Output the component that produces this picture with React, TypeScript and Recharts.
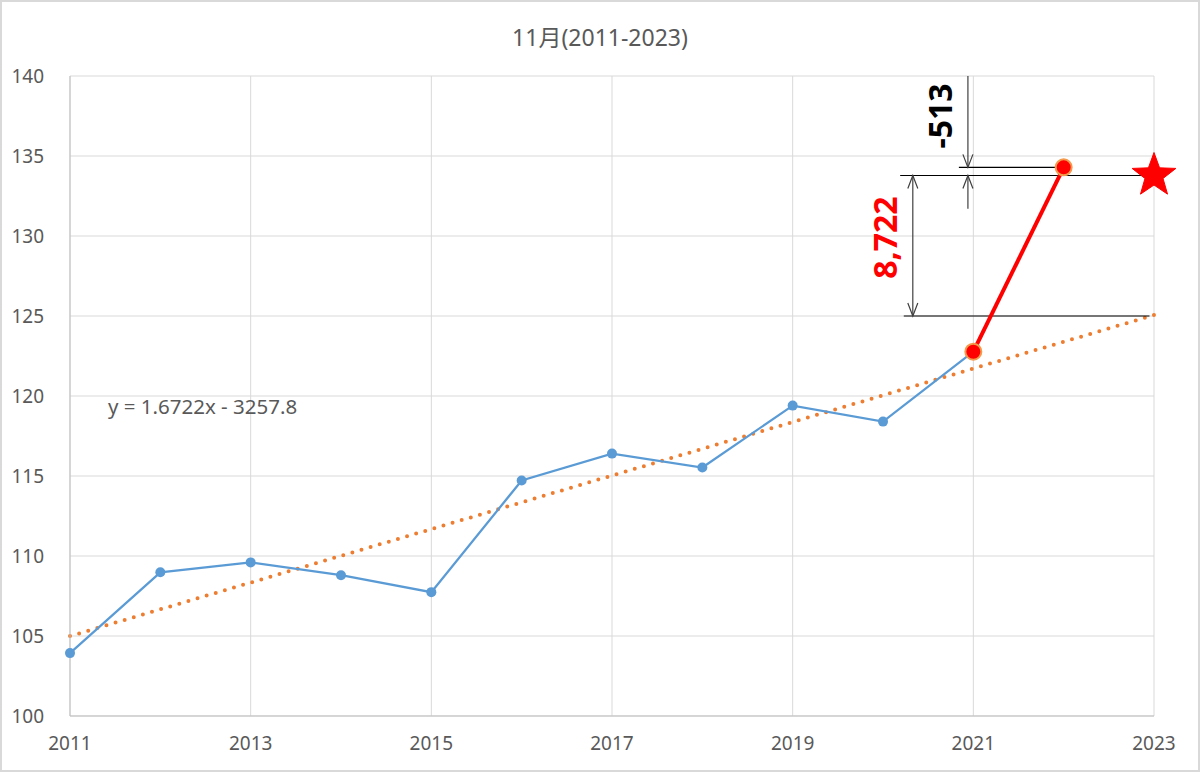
import React from 'react';
import {
  ComposedChart,
  Line,
  XAxis,
  YAxis,
  CartesianGrid,
  ReferenceLine,
  ReferenceDot,
} from 'recharts';

// 11月 values, 2011-2021 (blue) and the 2021-2022 jump (red)
const years = [2011, 2012, 2013, 2014, 2015, 2016, 2017, 2018, 2019, 2020, 2021];
const values = [103.93, 108.98, 109.6, 108.8, 107.74, 114.72, 116.4, 115.53, 119.4, 118.4, 122.77];
const redYears = [2021, 2022];
const redValues = [122.77, 134.29];
const starYear = 2023;
const starValue = 133.78;

const xTicks = [2011, 2013, 2015, 2017, 2019, 2021, 2023];
const yTicks = [100, 105, 110, 115, 120, 125, 130, 135, 140];

const slope = 1.6722;
const intercept = -3257.8;
const trendYears = [2011, 2023];

// dimension annotations (data coordinates)
const bracketLines = [
  { x1: 2020.23, x2: 2022.95, y: 125.0 },
  { x1: 2020.19, x2: 2023, y: 133.78 },
  { x1: 2020.84, x2: 2022, y: 134.29 },
];
const arrowShafts = [
  { x: 2020.33, y1: 125.0, y2: 133.78 },
  { x: 2020.94, y1: 134.29, y2: 140 },
  { x: 2020.94, y1: 131.7, y2: 133.78 },
];
const arrowHeads = [
  { x: 2020.33, y: 133.78, dir: 'up' },
  { x: 2020.33, y: 125.0, dir: 'down' },
  { x: 2020.94, y: 134.29, dir: 'down' },
  { x: 2020.94, y: 133.78, dir: 'up' },
];
const gapLabels = [
  { x: 2020.02, y: 129.9, text: '8,722', color: '#ff0000' },
  { x: 2020.63, y: 137.5, text: '-513', color: '#000000' },
];

const blueData = years.map((x, i) => ({ x, y: values[i] }));
const redData = redYears.map((x, i) => ({ x, y: redValues[i] }));
const starData = [{ x: starYear, y: starValue }];
const trendData = trendYears.map((x) => ({ x, y: slope * x + intercept }));

const font = '"Noto Sans", "Noto Sans CJK JP", sans-serif';
const gray = '#595959';

const StarDot = (props: any) => {
  const { cx, cy } = props;
  if (cx == null || cy == null) return null;
  const outer = 23;
  const inner = 9.5;
  const pts: string[] = [];
  for (let i = 0; i < 10; i++) {
    const r = i % 2 === 0 ? outer : inner;
    const a = -Math.PI / 2 + (i * Math.PI) / 5;
    pts.push(`${cx + r * Math.cos(a)},${cy + r * Math.sin(a)}`);
  }
  return <polygon points={pts.join(' ')} fill="#ff0000" stroke="#ff0000" />;
};

const arrowShape = (dir: string) => (props: any) => {
  const { cx, cy } = props;
  const s = dir === 'up' ? 1 : -1;
  return (
    <path
      d={`M${cx - 5},${cy + s * 13} L${cx},${cy} L${cx + 5},${cy + s * 13}`}
      fill="none"
      stroke="#404040"
      strokeWidth={1.2}
    />
  );
};

const labelShape = (text: string, color: string) => (props: any) => {
  const { cx, cy } = props;
  return (
    <text
      x={cx}
      y={cy}
      transform={`rotate(-90 ${cx} ${cy})`}
      textAnchor="middle"
      dominantBaseline="central"
      fontFamily={font}
      fontWeight="bold"
      fontSize={32}
      fill={color}
    >
      {text}
    </text>
  );
};

const equationShape = (props: any) => {
  const { cx, cy } = props;
  return (
    <text x={cx} y={cy} dominantBaseline="central" fontFamily={font} fontSize={20.5} fill={gray}>
      y = 1.6722x - 3257.8
    </text>
  );
};

export default function App() {
  return (
    <div
      style={{
        position: 'absolute',
        top: 0,
        left: 0,
        width: 1200,
        height: 772,
        background: '#fff',
        boxSizing: 'border-box',
        border: '2px solid #d9d9d9',
        fontFamily: font,
      }}
    >
      <div
        style={{
          position: 'absolute',
          top: 17,
          left: 0,
          width: '100%',
          textAlign: 'center',
          fontSize: 23,
          color: gray,
        }}
      >
        11月(2011-2023)
      </div>
      <ComposedChart
        width={1196}
        height={768}
        margin={{ top: 74, right: 44, bottom: 14, left: 0 }}
        style={{ position: 'absolute', top: 0, left: 0 }}
      >
        <CartesianGrid stroke="#d9d9d9" strokeWidth={1} />
        <XAxis
          dataKey="x"
          type="number"
          domain={[2011, 2023]}
          ticks={xTicks}
          axisLine={{ stroke: '#bfbfbf' }}
          tickLine={false}
          tick={{ fill: gray, fontSize: 19, fontFamily: font }}
          tickMargin={15}
          height={40}
        />
        <YAxis
          type="number"
          domain={[100, 140]}
          ticks={yTicks}
          axisLine={{ stroke: '#bfbfbf' }}
          tickLine={false}
          tick={{ fill: gray, fontSize: 19, fontFamily: font }}
          tickMargin={20}
          width={68}
        />
        <Line
          data={trendData}
          dataKey="y"
          stroke="#ed7d31"
          strokeWidth={4}
          strokeDasharray="0 9.5"
          strokeLinecap="round"
          dot={false}
          isAnimationActive={false}
        />
        <Line
          data={blueData}
          dataKey="y"
          stroke="#5b9bd5"
          strokeWidth={2.25}
          dot={{ r: 5, fill: '#5b9bd5', stroke: '#5b9bd5', strokeWidth: 0 }}
          isAnimationActive={false}
        />
        {bracketLines.map((b, i) => (
          <ReferenceLine
            key={`b${i}`}
            segment={[
              { x: b.x1, y: b.y },
              { x: b.x2, y: b.y },
            ]}
            stroke="#000"
            strokeWidth={1.2}
            ifOverflow="visible"
          />
        ))}
        {arrowShafts.map((a, i) => (
          <ReferenceLine
            key={`s${i}`}
            segment={[
              { x: a.x, y: a.y1 },
              { x: a.x, y: a.y2 },
            ]}
            stroke="#404040"
            strokeWidth={1.2}
            ifOverflow="visible"
          />
        ))}
        {arrowHeads.map((a, i) => (
          <ReferenceDot key={`h${i}`} x={a.x} y={a.y} ifOverflow="visible" shape={arrowShape(a.dir)} />
        ))}
        <Line
          data={redData}
          dataKey="y"
          stroke="#ff0000"
          strokeWidth={4}
          dot={{ r: 8, fill: '#ff0000', stroke: '#f39a4c', strokeWidth: 2 }}
          isAnimationActive={false}
        />
        <Line
          data={starData}
          dataKey="y"
          stroke="#ff0000"
          dot={<StarDot />}
          isAnimationActive={false}
        />
        {gapLabels.map((l, i) => (
          <ReferenceDot key={`l${i}`} x={l.x} y={l.y} ifOverflow="visible" shape={labelShape(l.text, l.color)} />
        ))}
        <ReferenceDot x={2011.42} y={119.4} ifOverflow="visible" shape={equationShape} />
      </ComposedChart>
    </div>
  );
}
